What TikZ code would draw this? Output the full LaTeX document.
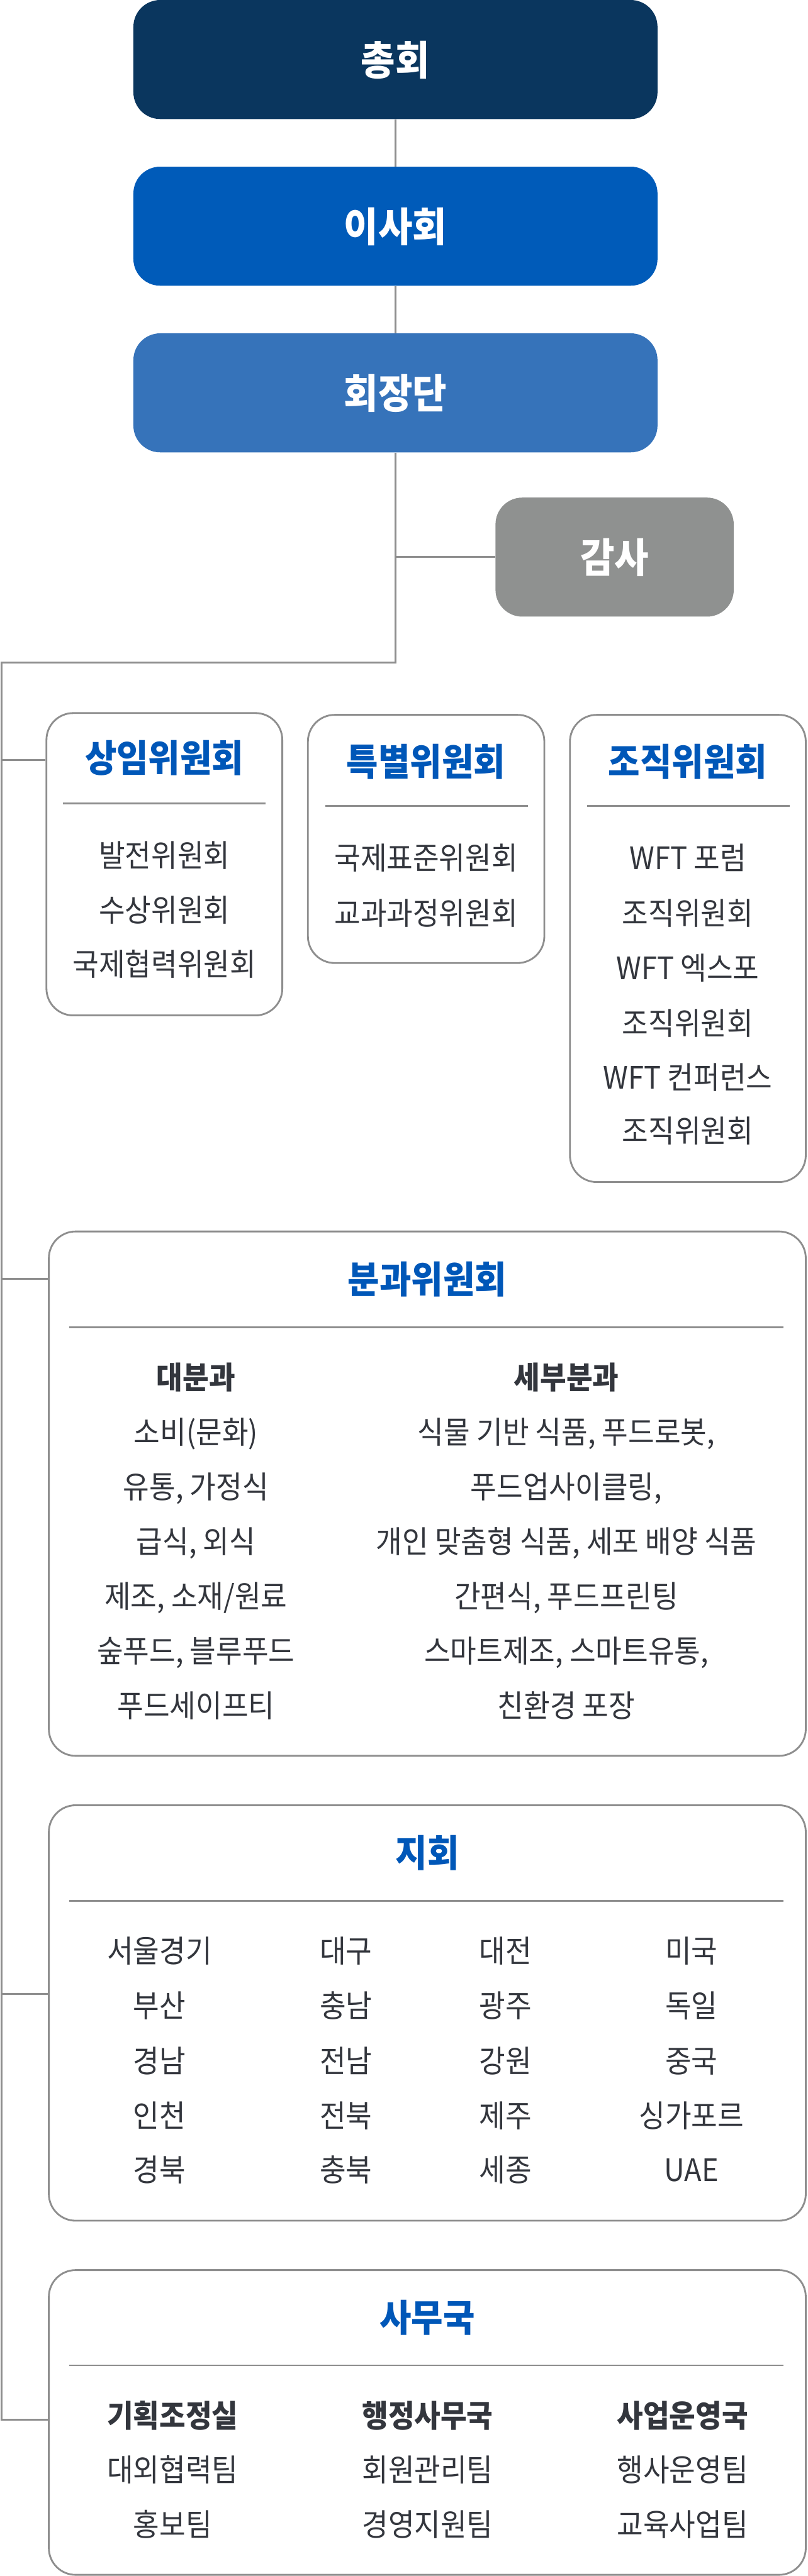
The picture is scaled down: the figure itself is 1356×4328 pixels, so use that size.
\documentclass[tikz,border=0pt]{standalone}
\usepackage{fontspec}
\newfontfamily\kr[FakeStretch=0.92]{Noto Sans CJK KR}
\definecolor{navy}{HTML}{0A365E}
\definecolor{blueA}{HTML}{005BB9}
\definecolor{blueB}{HTML}{3673BA}
\definecolor{grayA}{HTML}{8F9190}
\definecolor{lineg}{HTML}{8E8E8E}
\definecolor{titleb}{HTML}{0057B8}
\definecolor{txt}{HTML}{33363D}
\begin{document}
\begin{tikzpicture}[x=0.5pt,y=-0.5pt,
  topbox/.style={rounded corners=22.5pt, minimum width=440pt, minimum height=100pt, inner sep=0pt, text=white, font=\kr\bfseries\fontsize{34}{34}\selectfont, text height=28.56pt, text depth=2.72pt},
  frame/.style={draw=lineg, line width=1.5pt, rounded corners=22.5pt, fill=white, inner sep=0pt},
  conn/.style={draw=lineg, line width=1.5pt},
  sepline/.style={draw=lineg, line width=1.5pt},
  ttl/.style={inner sep=0pt, text=titleb, font=\kr\bfseries\fontsize{31.5}{31.5}\selectfont, text height=26.46pt, text depth=2.52pt},
  item/.style={inner sep=0pt, text=txt, font=\kr\fontsize{26}{26}\selectfont, text height=21.84pt, text depth=2.08pt},
  head/.style={item, font=\kr\bfseries\fontsize{26}{26}\selectfont}
]
\useasboundingbox (0,0) rectangle (1356,4328);

% top chain
\node[topbox, fill=navy] (chong) at (664,100) {총회};
\node[topbox, fill=blueA] (isa) at (664,380) {이사회};
\node[topbox, fill=blueB] (hoe) at (664,660) {회장단};
\node[topbox, fill=grayA, minimum width=200pt] (gamsa) at (1032,936) {감사};

\coordinate (j1) at (664,1113);
\coordinate (j0) at (3,1113);
\coordinate (jend) at (3,4065);
\coordinate (b1) at (3,1277);
\coordinate (b2) at (3,2149);
\coordinate (b3) at (3,3350);

% boxes
\node[frame, minimum width=198pt, minimum height=254pt] (sangim) at (276,1452) {};
\node[frame, minimum width=198.5pt, minimum height=208.5pt] (teuk) at (715.5,1409.5) {};
\node[frame, minimum width=198pt, minimum height=392.5pt] (jojik) at (1155,1593.5) {};
\node[frame, minimum width=635.5pt, minimum height=440.5pt] (bun) at (717.5,2509.5) {};
\node[frame, minimum width=635.5pt, minimum height=349pt] (jihoe) at (717.5,3382) {};
\node[frame, minimum width=635.5pt, minimum height=256pt] (samu) at (717.5,4070) {};

% connectors
\draw[conn] (chong.south) -- (isa.north);
\draw[conn] (isa.south) -- (hoe.north);
\draw[conn] (hoe.south) -- (j1) -- (j0) -- (jend) -- (jend -| samu.west);
\draw[conn] (hoe.south |- gamsa.west) -- (gamsa.west);
\draw[conn] (b1) -- (b1 -| sangim.west);
\draw[conn] (b2) -- (b2 -| bun.west);
\draw[conn] (b3) -- (b3 -| jihoe.west);

% 상임위원회
\node[ttl] (t1) at (276,1273) {상임위원회};
\draw[sepline] (106,1350) -- (446,1350);
\node[item] (s1) at (276,1437) {발전위원회};
\node[item] (s2) at (276,1529) {수상위원회};
\node[item] (s3) at (276,1620) {국제협력위원회};

% 특별위원회
\node[ttl] (t2) at (715.5,1279) {특별위원회};
\draw[sepline] (546,1354) -- (886,1354);
\node[item] (p1) at (715.5,1441) {국제표준위원회};
\node[item] (p2) at (715.5,1534) {교과과정위원회};

% 조직위원회
\node[ttl] (t3) at (1155,1279) {조직위원회};
\draw[sepline] (986,1354) -- (1326,1354);
\node[item] (o1) at (1155,1441) {WFT 포럼};
\node[item] (o2) at (1155,1534) {조직위원회};
\node[item] (o3) at (1155,1626) {WFT 엑스포};
\node[item] (o4) at (1155,1719) {조직위원회};
\node[item] (o5) at (1155,1810) {WFT 컨퍼런스};
\node[item] (o6) at (1155,1900) {조직위원회};

% 분과위원회
\node[ttl] (t4) at (717.5,2149) {분과위원회};
\draw[sepline] (116,2230) -- (1316,2230);
\node[head] (bh1) at (329,2314) {대분과};
\node[head] (bh2) at (951,2314) {세부분과};
\node[item] (bl1) at (329,2406) {소비(문화)};
\node[item] (bl2) at (329,2498) {유통, 가정식};
\node[item] (bl3) at (329,2590) {급식, 외식};
\node[item] (bl4) at (329,2681) {제조, 소재/원료};
\node[item] (bl5) at (329,2773) {숲푸드, 블루푸드};
\node[item] (bl6) at (329,2865) {푸드세이프티};
\node[item] (br1) at (951,2406) {식물 기반 식품, 푸드로봇,};
\node[item] (br2) at (951,2498) {푸드업사이클링,};
\node[item] (br3) at (951,2590) {개인 맞춤형 식품, 세포 배양 식품};
\node[item] (br4) at (951,2681) {간편식, 푸드프린팅};
\node[item] (br5) at (951,2773) {스마트제조, 스마트유통,};
\node[item] (br6) at (951,2865) {친환경 포장};

% 지회
\node[ttl] (t5) at (717.5,3113) {지회};
\draw[sepline] (116,3194) -- (1316,3194);
\node[item] (ja1) at (268,3277) {서울경기};
\node[item] (ja2) at (268,3369) {부산};
\node[item] (ja3) at (268,3462) {경남};
\node[item] (ja4) at (268,3554) {인천};
\node[item] (ja5) at (268,3645) {경북};
\node[item] (jb1) at (581,3277) {대구};
\node[item] (jb2) at (581,3369) {충남};
\node[item] (jb3) at (581,3462) {전남};
\node[item] (jb4) at (581,3554) {전북};
\node[item] (jb5) at (581,3645) {충북};
\node[item] (jc1) at (849,3277) {대전};
\node[item] (jc2) at (849,3369) {광주};
\node[item] (jc3) at (849,3462) {강원};
\node[item] (jc4) at (849,3554) {제주};
\node[item] (jc5) at (849,3645) {세종};
\node[item] (jd1) at (1161,3277) {미국};
\node[item] (jd2) at (1161,3369) {독일};
\node[item] (jd3) at (1161,3462) {중국};
\node[item] (jd4) at (1161,3554) {싱가포르};
\node[item] (jd5) at (1161,3645) {UAE};

% 사무국
\node[ttl] (t6) at (717.5,3894) {사무국};
\draw[sepline] (116,3974) -- (1316,3974);
\node[head] (sh1) at (290,4058) {기획조정실};
\node[head] (sh2) at (718,4058) {행정사무국};
\node[head] (sh3) at (1146,4058) {사업운영국};
\node[item] (sa1) at (290,4149) {대외협력팀};
\node[item] (sa2) at (290,4241) {홍보팀};
\node[item] (sb1) at (718,4149) {회원관리팀};
\node[item] (sb2) at (718,4241) {경영지원팀};
\node[item] (sc1) at (1146,4149) {행사운영팀};
\node[item] (sc2) at (1146,4241) {교육사업팀};
\end{tikzpicture}
\end{document}
